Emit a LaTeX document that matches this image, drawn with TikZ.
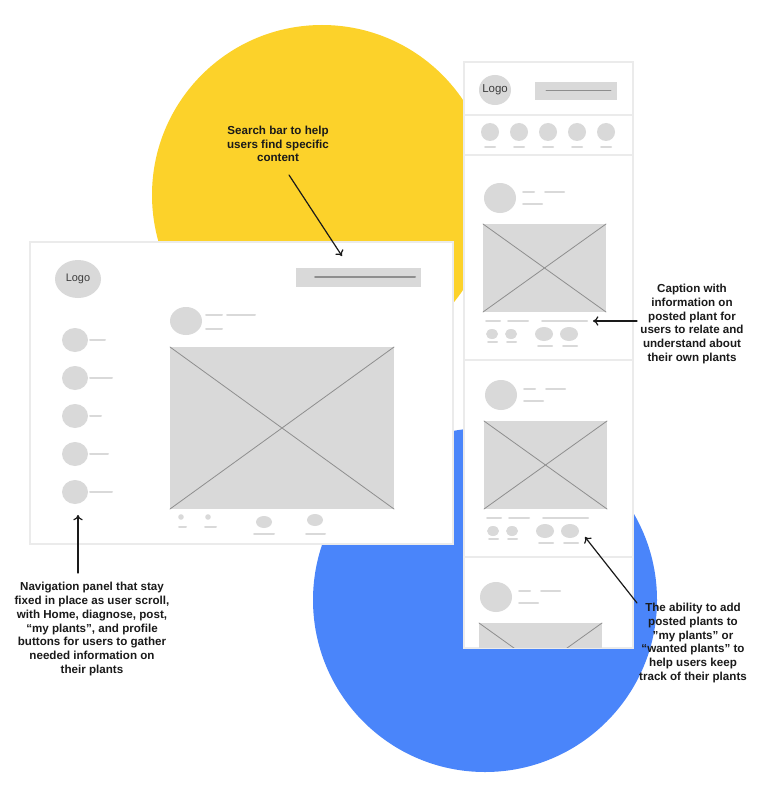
\documentclass[tikz,border=0pt]{standalone}
\usepackage{fontspec}
\setmainfont{Liberation Sans}
\usetikzlibrary{arrows.meta}
\definecolor{sunny}{HTML}{FCD22A}
\definecolor{sky}{HTML}{4A85FA}
\definecolor{ph}{HTML}{D9D9D9}
\definecolor{xline}{HTML}{8E8E8E}
\definecolor{rim}{HTML}{EBEBEB}
\definecolor{ink}{HTML}{1A1A1A}

\begin{document}
\begin{tikzpicture}[x=0.75pt,y=-0.75pt,>={To[length=4pt,width=7pt]},
                    line cap=round]
  \tikzstyle{bar}=[draw=ph,line width=1.5pt]
  \tikzstyle{photo}=[fill=ph]
  \tikzstyle{xx}=[draw=xline,line width=0.6pt]
  \tikzstyle{panel}=[fill=white,draw=rim,line width=1.5pt]
  \tikzstyle{note}=[text=ink,font=\bfseries\fontsize{8.7}{10.3}\selectfont,
                    align=center,inner sep=0pt]
  \tikzstyle{callout}=[->,draw=ink,line width=0.9pt]

  \useasboundingbox (0,0) rectangle (767,788);
  \fill[white] (0,0) rectangle (767,788);

  % backdrop circles
  \fill[sunny] (322,195) circle[radius=170];
  \fill[sky] (485,600) circle[radius=172];

  % desktop frame
  \draw[panel] (30,242) rectangle (453,544);
  \fill[ph] (78,279) circle[x radius=23,y radius=19];
  \node[text=ink!85,font=\fontsize{8.2}{9}\selectfont] (dlogo) at (78,279) {Logo};
  \fill[ph] (296,268) rectangle (421,287);
  \draw[draw=xline,line width=1.5pt] (315,277) -- (415,277);
  \foreach \y/\l in {340/105,378/112,416/101,454/108,492/112}{
    \fill[ph] (75,\y) circle[x radius=13,y radius=12];
    \draw[bar] (90,\y) -- (\l,\y);
  }
  \fill[ph] (186,321) circle[x radius=16,y radius=14];
  \draw[bar] (206,315) -- (222,315) (227,315) -- (255,315) (206,329) -- (222,329);
  \fill[photo] (170,347) rectangle (394,509);
  \draw[xx] (170,347) -- (394,509) (170,509) -- (394,347);
  \fill[ph] (181,517) circle[radius=2.8] (208,517) circle[radius=2.8];
  \draw[bar] (179,527) -- (186,527) (205,527) -- (216,527);
  \fill[ph] (264,522) circle[x radius=8,y radius=6] (315,520) circle[x radius=8,y radius=6];
  \draw[bar] (254,534) -- (274,534) (306,534) -- (325,534);

  % mobile frame
  \draw[panel] (464,62) rectangle (633,648);
  \fill[ph] (495,90) circle[x radius=16,y radius=15];
  \node[text=ink!85,font=\fontsize{8.6}{9}\selectfont] (mlogo) at (495,90) {Logo};
  \fill[ph] (535,82) rectangle (617,100);
  \draw[xx] (546,90) -- (611,90);
  \foreach \x in {490,519,548,577,606}{
    \fill[ph] (\x,132) circle[radius=9];
    \draw[bar] (\x-5,147) -- (\x+5,147);
  }
  \foreach \y in {115,155,360,557}
    \draw[rim,line width=0.8pt] (465,\y) -- (632,\y);
  \begin{scope}
    \clip (465,63) rectangle (632,647);
    \foreach \dx/\dy in {0/0,1/197,-4/399}{
      \begin{scope}[shift={(\dx,\dy)}]
        \fill[ph] (500,198) circle[x radius=16,y radius=15];
        \draw[bar] (523,192) -- (534,192) (545,192) -- (564,192) (523,204) -- (542,204);
        \fill[photo] (483,224) rectangle (606,312);
        \draw[xx] (483,224) -- (606,312) (483,312) -- (606,224);
        \draw[bar] (486,321) -- (500,321) (508,321) -- (528,321) (542,321) -- (587,321);
        \fill[ph] (492,334) circle[x radius=6,y radius=5] (511,334) circle[x radius=6,y radius=5];
        \draw[bar] (488,342) -- (497,342) (507,342) -- (516,342);
        \fill[ph] (544,334) circle[x radius=9,y radius=7] (569,334) circle[x radius=9,y radius=7];
        \draw[bar] (538,346) -- (552,346) (563,346) -- (577,346);
      \end{scope}
    }
  \end{scope}

  % notes
  \node[note] (srchtxt) at (278,144) {Search bar to help\\users find specific\\content};
  \node[note] (navtxt) at (92,629) {Navigation panel that stay\\fixed in place as user scroll,\\with Home, diagnose, post,\\“my plants”, and profile\\buttons for users to gather\\needed information on\\their plants};
  \node[note] (captxt) at (692,324) {Caption with\\information on\\posted plant for\\users to relate and\\understand about\\their own plants};
  \node[note] (addtxt) at (693,643) {The ability to add\\posted plants to\\"my plants" or\\“wanted plants” to\\help users keep\\track of their plants};

  \coordinate (srchtail) at (289,175);
  \coordinate (srchtip) at (342,256);
  \coordinate (navtail) at (78,573);
  \coordinate (navtip) at (78,515);
  \coordinate (captail) at (637,321);
  \coordinate (captip) at (593,321);
  \coordinate (addtail) at (637,603);
  \coordinate (addtip) at (585,537);
  \draw[callout] (srchtail) -- (srchtip);
  \draw[callout] (navtail) -- (navtip);
  \draw[callout] (captail) -- (captip);
  \draw[callout] (addtail) -- (addtip);
\end{tikzpicture}
\end{document}
